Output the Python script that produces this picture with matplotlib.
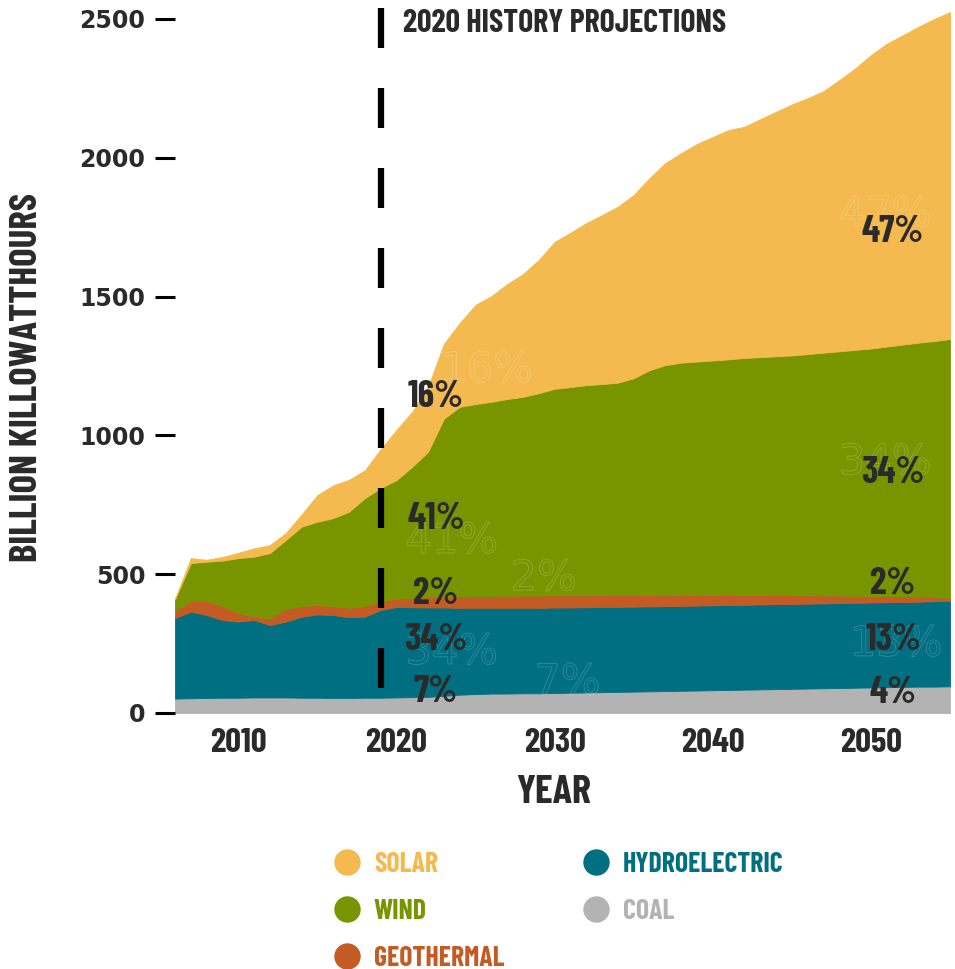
import matplotlib
matplotlib.use("Agg")
import matplotlib.pyplot as plt
import matplotlib.patheffects as pe
from matplotlib.lines import Line2D

plt.rcParams['font.family'] = ['Barlow Condensed', 'DejaVu Sans']
plt.rcParams['font.weight'] = 'bold'

# Generation by source, billion kWh (history to 2019, projections after)
years = list(range(2006, 2056))

coal = [52, 53, 54, 55, 55, 56, 56, 56, 55, 55,
        54, 54, 55, 55, 56, 57, 58, 62, 66, 68,
        70, 70, 71, 71, 72, 73, 74, 75, 76, 77,
        78, 79, 80, 81, 82, 83, 84, 85, 86, 87,
        88, 89, 90, 91, 92, 93, 94, 95, 95, 96]

hydro = [290, 312, 299, 280, 274, 279, 261, 273, 292, 300,
         299, 291, 292, 316, 326, 324, 322, 318, 313, 311,
         309, 309, 308, 308, 308, 307, 307, 307, 306, 306,
         306, 306, 306, 306, 306, 306, 306, 306, 306, 306,
         306, 306, 306, 306, 306, 306, 306, 306, 308, 308]

geothermal = [27, 38, 52, 50, 31, 12, 24, 46, 38, 34,
              32, 34, 38, 32, 30, 34, 38, 39, 41, 42,
              43, 43, 44, 44, 44, 44, 43, 43, 43, 42,
              41, 40, 39, 38, 37, 36, 35, 34, 33, 31,
              30, 28, 27, 25, 24, 22, 20, 18, 14, 11]

wind = [41, 137, 140, 164, 198, 216, 235, 248, 286, 300,
        317, 346, 389, 407, 427, 472, 523, 641, 683, 692,
        699, 709, 716, 729, 744, 750, 757, 760, 765, 781,
        810, 828, 837, 841, 845, 849, 854, 857, 860, 864,
        869, 875, 880, 886, 891, 899, 907, 915, 923, 932]

solar = [2, 18, 7, 13, 19, 30, 29, 25, 44, 96,
         118, 115, 100, 140, 181, 198, 234, 270, 302, 357,
         381, 414, 442, 480, 529, 556, 584, 609, 634, 660,
         692, 728, 755, 784, 805, 826, 833, 857, 881, 904,
         922, 942, 977, 1014, 1057, 1091, 1114, 1138, 1160, 1178]

names = ['SOLAR', 'WIND', 'GEOTHERMAL', 'HYDROELECTRIC', 'COAL']
colors = {'SOLAR': '#F4B94F', 'WIND': '#789500', 'GEOTHERMAL': '#C45A24',
          'HYDROELECTRIC': '#006F82', 'COAL': '#B3B3B3'}

# Share labels: (year, value position, text)
labels_2020 = [(2022.5, 1140, '16%'), (2022.5, 700, '41%'), (2022.5, 428, '2%'),
               (2022.5, 263, '34%'), (2022.5, 75, '7%')]
labels_2050 = [(2051.4, 1733, '47%'), (2051.4, 864, '34%'), (2051.4, 465, '2%'),
               (2051.4, 263, '13%'), (2051.4, 72, '4%')]
# faint outlined copies left behind in the artwork
ghost_labels = [(2025.7, 1236, '16%'), (2023.5, 620, '41%'), (2029.3, 486, '2%'),
                (2023.5, 220, '34%'), (2030.8, 112, '7%'), (2050.9, 1797, '47%'),
                (2050.9, 904, '34%'), (2051.6, 249, '13%')]

dark = '#2a2a2a'

fig = plt.figure(figsize=(9.55, 9.69), dpi=100)
ax = fig.add_axes([175 / 955, 256 / 969, 775 / 955, 707.9 / 969])

ax.stackplot(years, coal, hydro, geothermal, wind, solar,
             colors=[colors['COAL'], colors['HYDROELECTRIC'], colors['GEOTHERMAL'],
                     colors['WIND'], colors['SOLAR']],
             edgecolor='face', linewidth=0.6)

for x, y, t in ghost_labels:
    ax.text(x, y, t, fontsize=30, family='DejaVu Sans', fontweight='normal',
            color='none', ha='center', va='center',
            path_effects=[pe.withStroke(linewidth=0.6, foreground=(1, 1, 1, 0.2))])

# history / projection divider
ax.plot([2019, 2019], [2540, 65], color='black', lw=4.5,
        linestyle=(0, (6.4, 6.4)), solid_capstyle='butt', dash_capstyle='butt')
ax.text(2020.4, 2482, '2020 HISTORY PROJECTIONS', fontsize=23, color=dark,
        ha='left', va='center')

for x, y, t in labels_2020 + labels_2050:
    ax.text(x, y, t, fontsize=27, color=dark, ha='center', va='center')

ax.set_xlim(2006, 2055)
ax.set_ylim(0, 2550)
for s in ax.spines.values():
    s.set_visible(False)

ax.set_xticks([2010, 2020, 2030, 2040, 2050])
ax.set_yticks([0, 500, 1000, 1500, 2000, 2500])
ax.tick_params(axis='x', length=0, pad=11, labelsize=25, labelcolor=dark)
ax.tick_params(axis='y', length=14.4, width=2.2, color='black', pad=7,
               labelsize=17, labelcolor=dark)
for lbl in ax.get_yticklabels():
    lbl.set_fontfamily('DejaVu Sans')
    lbl.set_fontweight('bold')

ax.set_xlabel('YEAR', fontsize=29, fontweight='bold', color=dark, va='center')
ax.xaxis.set_label_coords(0.489, -0.1116)
ax.set_ylabel('BILLION KILLOWATTHOURS', fontsize=28, fontweight='bold', color=dark, va='center')
ax.yaxis.set_label_coords(-0.191, 0.4746)

handles = [Line2D([], [], marker='o', linestyle='none', markersize=18,
                  markerfacecolor=colors[n], markeredgecolor=colors[n]) for n in names]
fig.legend(handles, names, loc='upper left', bbox_to_anchor=(333 / 955, 1 - 852 / 969),
           ncol=2, frameon=False, prop={'family': 'Barlow Condensed', 'weight': 'bold', 'size': 20},
           handlelength=1.0, handletextpad=0.47, columnspacing=2.79, labelspacing=0.79,
           borderpad=0, borderaxespad=0, labelcolor=[colors[n] for n in names])

fig.savefig('out.png', dpi=100)
